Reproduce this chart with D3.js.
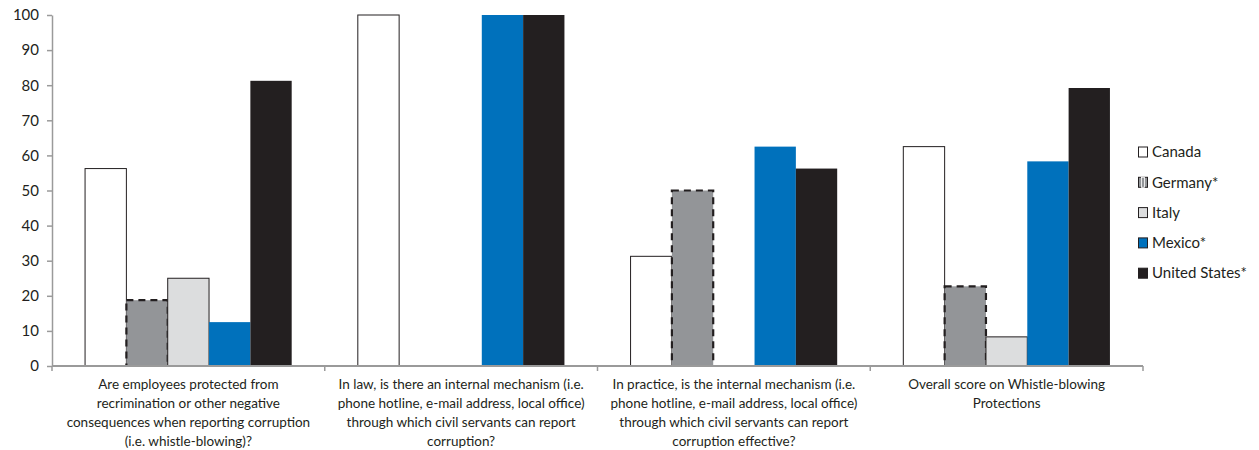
<!DOCTYPE html>
<html>
<head>
<meta charset="utf-8">
<script src="https://cdn.jsdelivr.net/npm/d3@7"></script>
<style>
  body { margin: 0; background: #fff; }
  text { font-family: Lato, "Open Sans", sans-serif; fill: #231f20; }
</style>
</head>
<body>
<div class="svg-container"></div>
<script>
var categories = [
  ["Are employees protected from", "recrimination or other negative", "consequences when reporting corruption", "(i.e. whistle-blowing)?"],
  ["In law, is there an internal mechanism (i.e.", "phone hotline, e-mail address, local office)", "through which civil servants can report", "corruption?"],
  ["In practice, is the internal mechanism (i.e.", "phone hotline, e-mail address, local office)", "through which civil servants can report", "corruption effective?"],
  ["Overall score on Whistle-blowing", "Protections"]
];
var seriesNames = ["Canada", "Germany*", "Italy", "Mexico*", "United States*"];
var canada = [56.25, 100, 31.25, 62.5];
var germany = [18.75, 0, 50, 22.7];
var italy = [25, 0, 0, 8.3];
var mexico = [12.5, 100, 62.5, 58.3];
var unitedStates = [81.25, 100, 56.25, 79.2];
var yTicks = [0, 10, 20, 30, 40, 50, 60, 70, 80, 90, 100];

var seriesValues = [canada, germany, italy, mexico, unitedStates];
var fills = ["#ffffff", "#939598", "#dcddde", "#0071bc", "#231f20"];
var strokes = ["#231f20", "#231f20", "#231f20", "#231f20", "#231f20"];

var width = 1259, height = 450;
var margin = {left: 52, top: 15, right: 116, bottom: 84};

var svg = d3.select(".svg-container").append("svg")
  .attr("width", width).attr("height", height);

var x0 = d3.scaleBand().domain(d3.range(categories.length))
  .range([margin.left, width - margin.right]).padding(0);
var x1 = d3.scaleBand().domain(d3.range(seriesNames.length))
  .range([0, x0.bandwidth()]).paddingInner(0).paddingOuter(0.8);
var y = d3.scaleLinear().domain([0, 100]).range([height - margin.bottom, margin.top]);

// bars
var groups = svg.append("g").selectAll("g")
  .data(categories).enter().append("g")
  .attr("transform", (d, i) => "translate(" + x0(i) + ",0)");

groups.selectAll("rect")
  .data((d, i) => seriesValues.map((s, k) => ({k: k, v: s[i]})))
  .enter().append("rect")
  .filter(d => d.v > 0)
  .attr("x", d => x1(d.k))
  .attr("width", x1.bandwidth())
  .attr("y", d => y(d.v))
  .attr("height", d => y(0) - y(d.v))
  .attr("fill", d => fills[d.k])
  .attr("stroke", d => (d.k <= 2) ? "#231f20" : "none")
  .attr("stroke-width", d => d.k === 1 ? 2.2 : 1)
  .attr("stroke-dasharray", d => d.k === 1 ? "7,5" : null);

// y axis
var yAxis = svg.append("g")
  .attr("transform", "translate(" + margin.left + ",0)")
  .call(d3.axisLeft(y).tickValues(yTicks).tickSize(5).tickSizeOuter(0).tickPadding(8));
yAxis.select(".domain").attr("stroke", "#9a9a9a").attr("stroke-width", 1.5);
yAxis.selectAll(".tick line").attr("stroke", "#9a9a9a").attr("stroke-width", 1.5);
yAxis.selectAll(".tick text").style("font-size", "15px").attr("fill", "#231f20");

// x axis
var xAxisY = y(0);
svg.append("line")
  .attr("x1", margin.left).attr("x2", width - margin.right)
  .attr("y1", xAxisY).attr("y2", xAxisY)
  .attr("stroke", "#9a9a9a").attr("stroke-width", 2);
svg.append("g").selectAll("line")
  .data(d3.range(categories.length + 1)).enter().append("line")
  .attr("x1", i => margin.left + i * x0.step())
  .attr("x2", i => margin.left + i * x0.step())
  .attr("y1", xAxisY).attr("y2", xAxisY + 5)
  .attr("stroke", "#9a9a9a").attr("stroke-width", 1.5);

// category labels
var labels = svg.append("g").selectAll("text")
  .data(categories).enter().append("text")
  .attr("text-anchor", "middle")
  .style("font-size", "13.5px")
  .attr("transform", (d, i) => "translate(" + (x0(i) + x0.bandwidth() / 2) + "," + (xAxisY + 23) + ")");
labels.selectAll("tspan")
  .data(d => d).enter().append("tspan")
  .attr("x", 0).attr("dy", (d, i) => i === 0 ? 0 : 19)
  .text(d => d);

// legend
var legend = svg.append("g").attr("transform", "translate(1138,152)");
var items = legend.selectAll("g").data(seriesNames).enter().append("g")
  .attr("transform", (d, i) => "translate(0," + (i * 30.3) + ")");
items.append("rect")
  .attr("x", 0.5).attr("y", -5).attr("width", 9).attr("height", 10)
  .attr("fill", (d, i) => fills[i])
  .attr("stroke", (d, i) => strokes[i]).attr("stroke-width", 1);
items.filter((d, i) => i === 1).append("rect")
  .attr("x", 3.5).attr("y", -5).attr("width", 3).attr("height", 10)
  .attr("fill", "#939598").attr("stroke", "#fff").attr("stroke-width", 0.8);
items.append("text")
  .attr("x", 14).attr("y", 0).attr("dy", "0.35em")
  .style("font-size", "15px")
  .text(d => d);
</script>
</body>
</html>
